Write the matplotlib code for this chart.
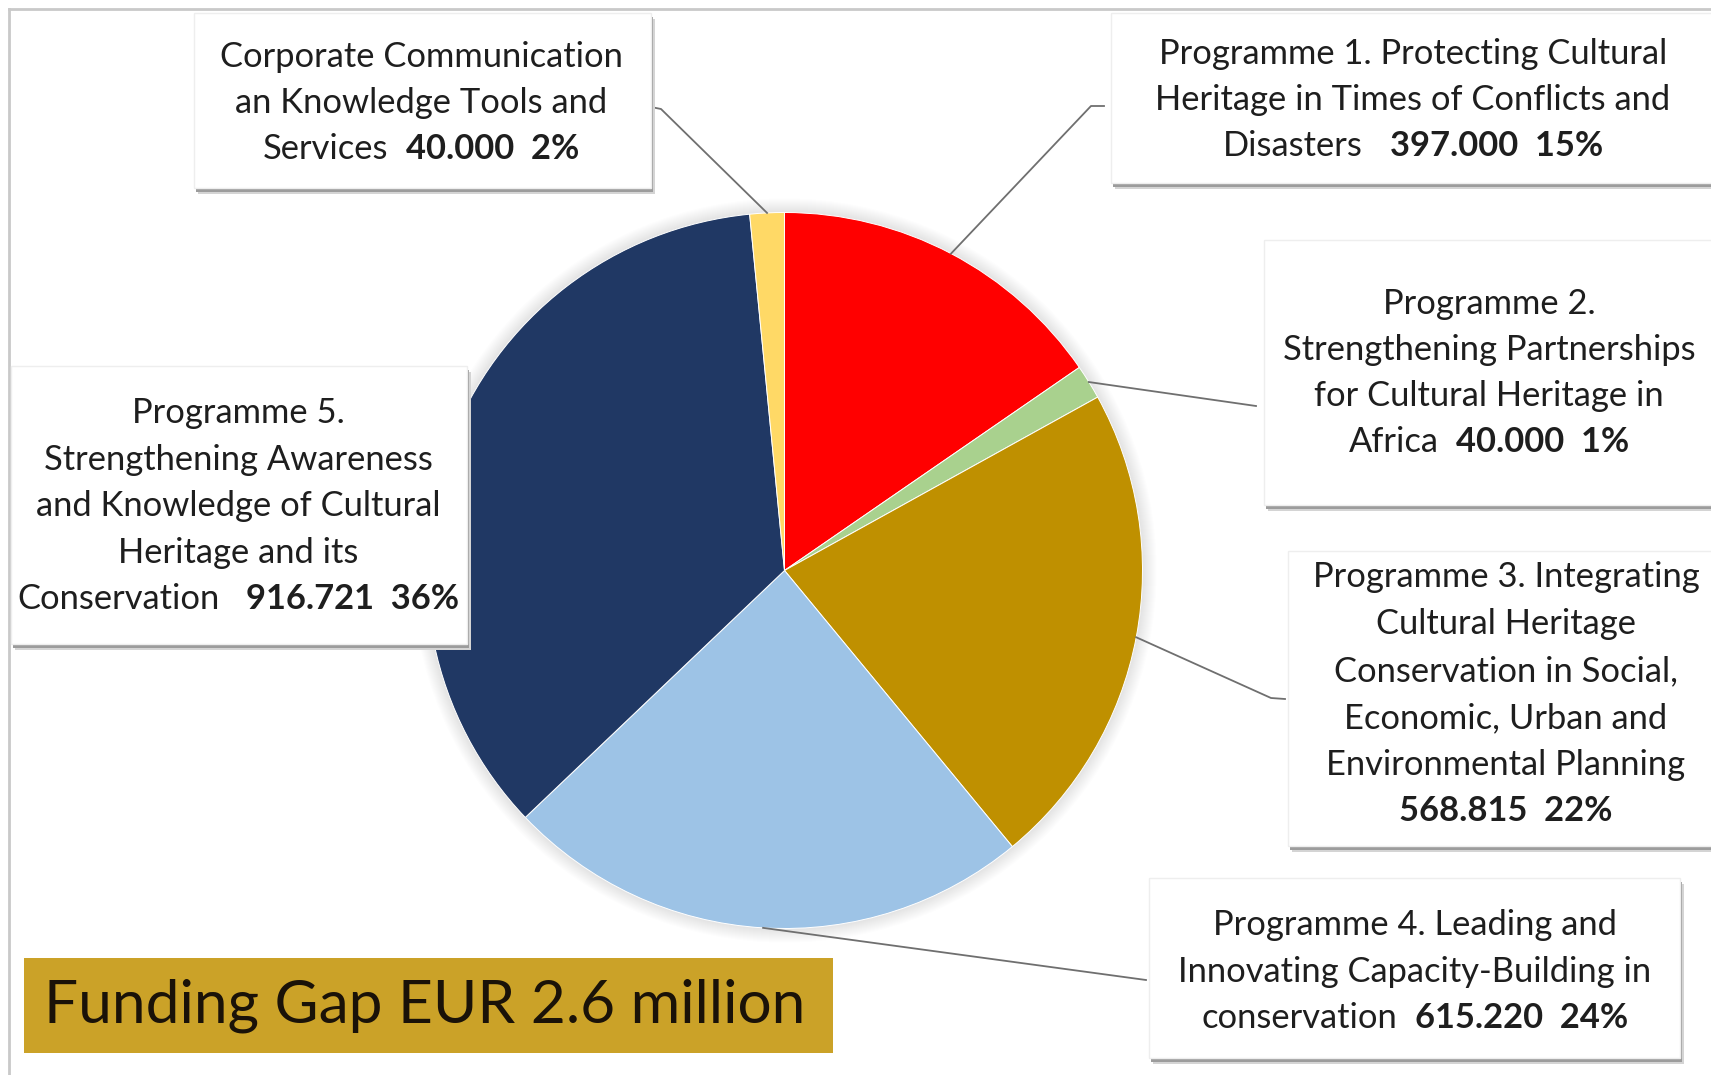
import matplotlib
matplotlib.use("Agg")
import matplotlib.pyplot as plt
from matplotlib.patches import Rectangle, Circle
import numpy as np

# ---- data ---------------------------------------------------------------
programmes = [
    "Programme 1. Protecting Cultural Heritage in Times of Conflicts and Disasters",
    "Programme 2. Strengthening Partnerships for Cultural Heritage in Africa",
    "Programme 3. Integrating Cultural Heritage Conservation in Social, Economic, Urban and Environmental Planning",
    "Programme 4. Leading and Innovating Capacity-Building in conservation",
    "Programme 5. Strengthening Awareness and Knowledge of Cultural Heritage and its Conservation",
    "Corporate Communication an Knowledge Tools and Services",
]
amounts = [397000, 40000, 568815, 615220, 916721, 40000]
amount_labels = ["397.000", "40.000", "568.815", "615.220", "916.721", "40.000"]
pct_labels = ["15%", "1%", "22%", "24%", "36%", "2%"]
colors = ["#FF0000", "#A9D18E", "#BF9000", "#9DC3E6", "#203864", "#FFD966"]
title_text = "Funding Gap EUR 2.6 million"

# wrapped label lines (the value is appended to the last line)
label_lines = [
    ["Programme 1. Protecting Cultural", "Heritage in Times of Conflicts and", "Disasters"],
    ["Programme 2.", "Strengthening Partnerships", "for Cultural Heritage in", "Africa"],
    ["Programme 3. Integrating", "Cultural Heritage", "Conservation in Social,",
     "Economic, Urban and", "Environmental Planning", ""],
    ["Programme 4. Leading and", "Innovating Capacity-Building in", "conservation"],
    ["Programme 5.", "Strengthening Awareness", "and Knowledge of Cultural",
     "Heritage and its", "Conservation"],
    ["Corporate Communication", "an Knowledge Tools and", "Services"],
]

# ---- layout (pixel units, y measured from the top) ---------------------
W, H = 1711, 1075
FONT = "Lato"
LABEL_SIZE = 24.8
TITLE_SIZE = 43.5
TEXT_COLOR = "#1e1e1e"

pie_cx, pie_cy, pie_r = 784.5, 570.5, 358

# box: (left, top, right, bottom), text centre x, first line y, line step, gap spaces
boxes = [
    dict(box=(1111, 13, 1760, 183), tx=1413, ty=52, step=46, gap=3),
    dict(box=(1264, 240, 1760, 505), tx=1489, ty=302, step=46, gap=2),
    dict(box=(1288, 551, 1760, 846), tx=1506, ty=575, step=46.8, gap=2),
    dict(box=(1149, 878, 1680, 1058), tx=1415, ty=923, step=46.5, gap=2),
    dict(box=(11, 366, 467, 644), tx=238, ty=411, step=46.5, gap=3),
    dict(box=(194, 13, 651, 188), tx=421, ty=55, step=46, gap=2),
]
# leader line elbow and end points (None = no leader)
leaders = [
    [(1091, 106), (1104, 106)],
    [(1256, 406)],
    [(1271, 698), (1285, 699)],
    [(1146, 980)],
    None,
    [(661, 109), (651, 107)],
]

fig = plt.figure(figsize=(W / 100, H / 100), dpi=100)
fig.patch.set_facecolor("white")
ax = fig.add_axes([0, 0, 1, 1])


def Y(y):
    return H - y


# soft halo around the pie
for k in range(14, 0, -1):
    ax.add_patch(Circle((pie_cx, Y(pie_cy)), pie_r + k, color="#9aa0a8",
                        alpha=0.018, lw=0, zorder=1))

wedges, _ = ax.pie(amounts, colors=colors, startangle=90, counterclock=False,
                   center=(pie_cx, Y(pie_cy)), radius=pie_r, frame=True,
                   wedgeprops=dict(edgecolor="white", linewidth=0.7, zorder=2))
for w in wedges:
    w.set_zorder(2)

ax.set_xlim(0, W)
ax.set_ylim(0, H)
ax.set_aspect("auto")
ax.axis("off")

# outer frame (top and left edges)
ax.plot([9, W], [Y(9), Y(9)], color="#c9c9c9", lw=2, zorder=0.5)
ax.plot([9, 9], [Y(9), 0], color="#c9c9c9", lw=2, zorder=0.5)

# leader lines from the middle of each wedge rim
for w, pts in zip(wedges, leaders):
    if pts is None:
        continue
    mid = np.deg2rad((w.theta1 + w.theta2) / 2)
    x0 = pie_cx + pie_r * np.cos(mid)
    y0 = Y(pie_cy) + pie_r * np.sin(mid)
    xs = [x0] + [p[0] for p in pts]
    ys = [y0] + [Y(p[1]) for p in pts]
    ax.plot(xs, ys, color="#6f6f6f", lw=1.3, zorder=3)

renderer = fig.canvas.get_renderer()


def text_width(s, weight):
    t = ax.text(0, 0, s, fontsize=LABEL_SIZE, family=FONT, weight=weight)
    bb = t.get_window_extent(renderer=renderer)
    t.remove()
    return bb.width


space_w = text_width("x x", "normal") - text_width("xx", "normal")
em_px = LABEL_SIZE * 100 / 72


def draw_line(cx, y_center, segments, gap):
    segs = [(s, wt) for s, wt in segments if s]
    widths = [text_width(s, wt) for s, wt in segs]
    total = sum(widths) + gap * space_w * (len(segs) - 1)
    x = cx - total / 2
    base = Y(y_center + 0.36 * em_px)
    for (s, wt), wd in zip(segs, widths):
        ax.text(x, base, s, fontsize=LABEL_SIZE, family=FONT, weight=wt,
                color=TEXT_COLOR, ha="left", va="baseline", zorder=6)
        x += wd + gap * space_w


for lines, amt, pct, spec in zip(label_lines, amount_labels, pct_labels, boxes):
    l, t, r, b = spec["box"]
    # drop shadow then white box
    ax.add_patch(Rectangle((l + 4, Y(b) - 6), r - l, b - t, color="#d4d4d4", lw=0, zorder=4))
    ax.add_patch(Rectangle((l + 2, Y(b) - 4), r - l, b - t, color="#9c9c9c", lw=0, zorder=4.1))
    ax.add_patch(Rectangle((l, Y(b)), r - l, b - t, facecolor="white",
                           edgecolor="#eeeeee", lw=1, zorder=4.2))
    n = len(lines)
    for i, line in enumerate(lines):
        yc = spec["ty"] + i * spec["step"]
        if i == n - 1:
            value = amt + "  " + pct
            draw_line(spec["tx"], yc, [(line, "normal"), (value, "bold")], spec["gap"])
        else:
            draw_line(spec["tx"], yc, [(line, "normal")], 1)

# headline box
ax.add_patch(Rectangle((24, Y(1053)), 833 - 24, 1053 - 958, color="#CBA228", lw=0, zorder=4))
ax.text(44, Y(1006), title_text, fontsize=TITLE_SIZE, family=FONT,
        color="#1a1208", ha="left", va="center", zorder=6)

fig.savefig("out.png", dpi=100, facecolor="white")
